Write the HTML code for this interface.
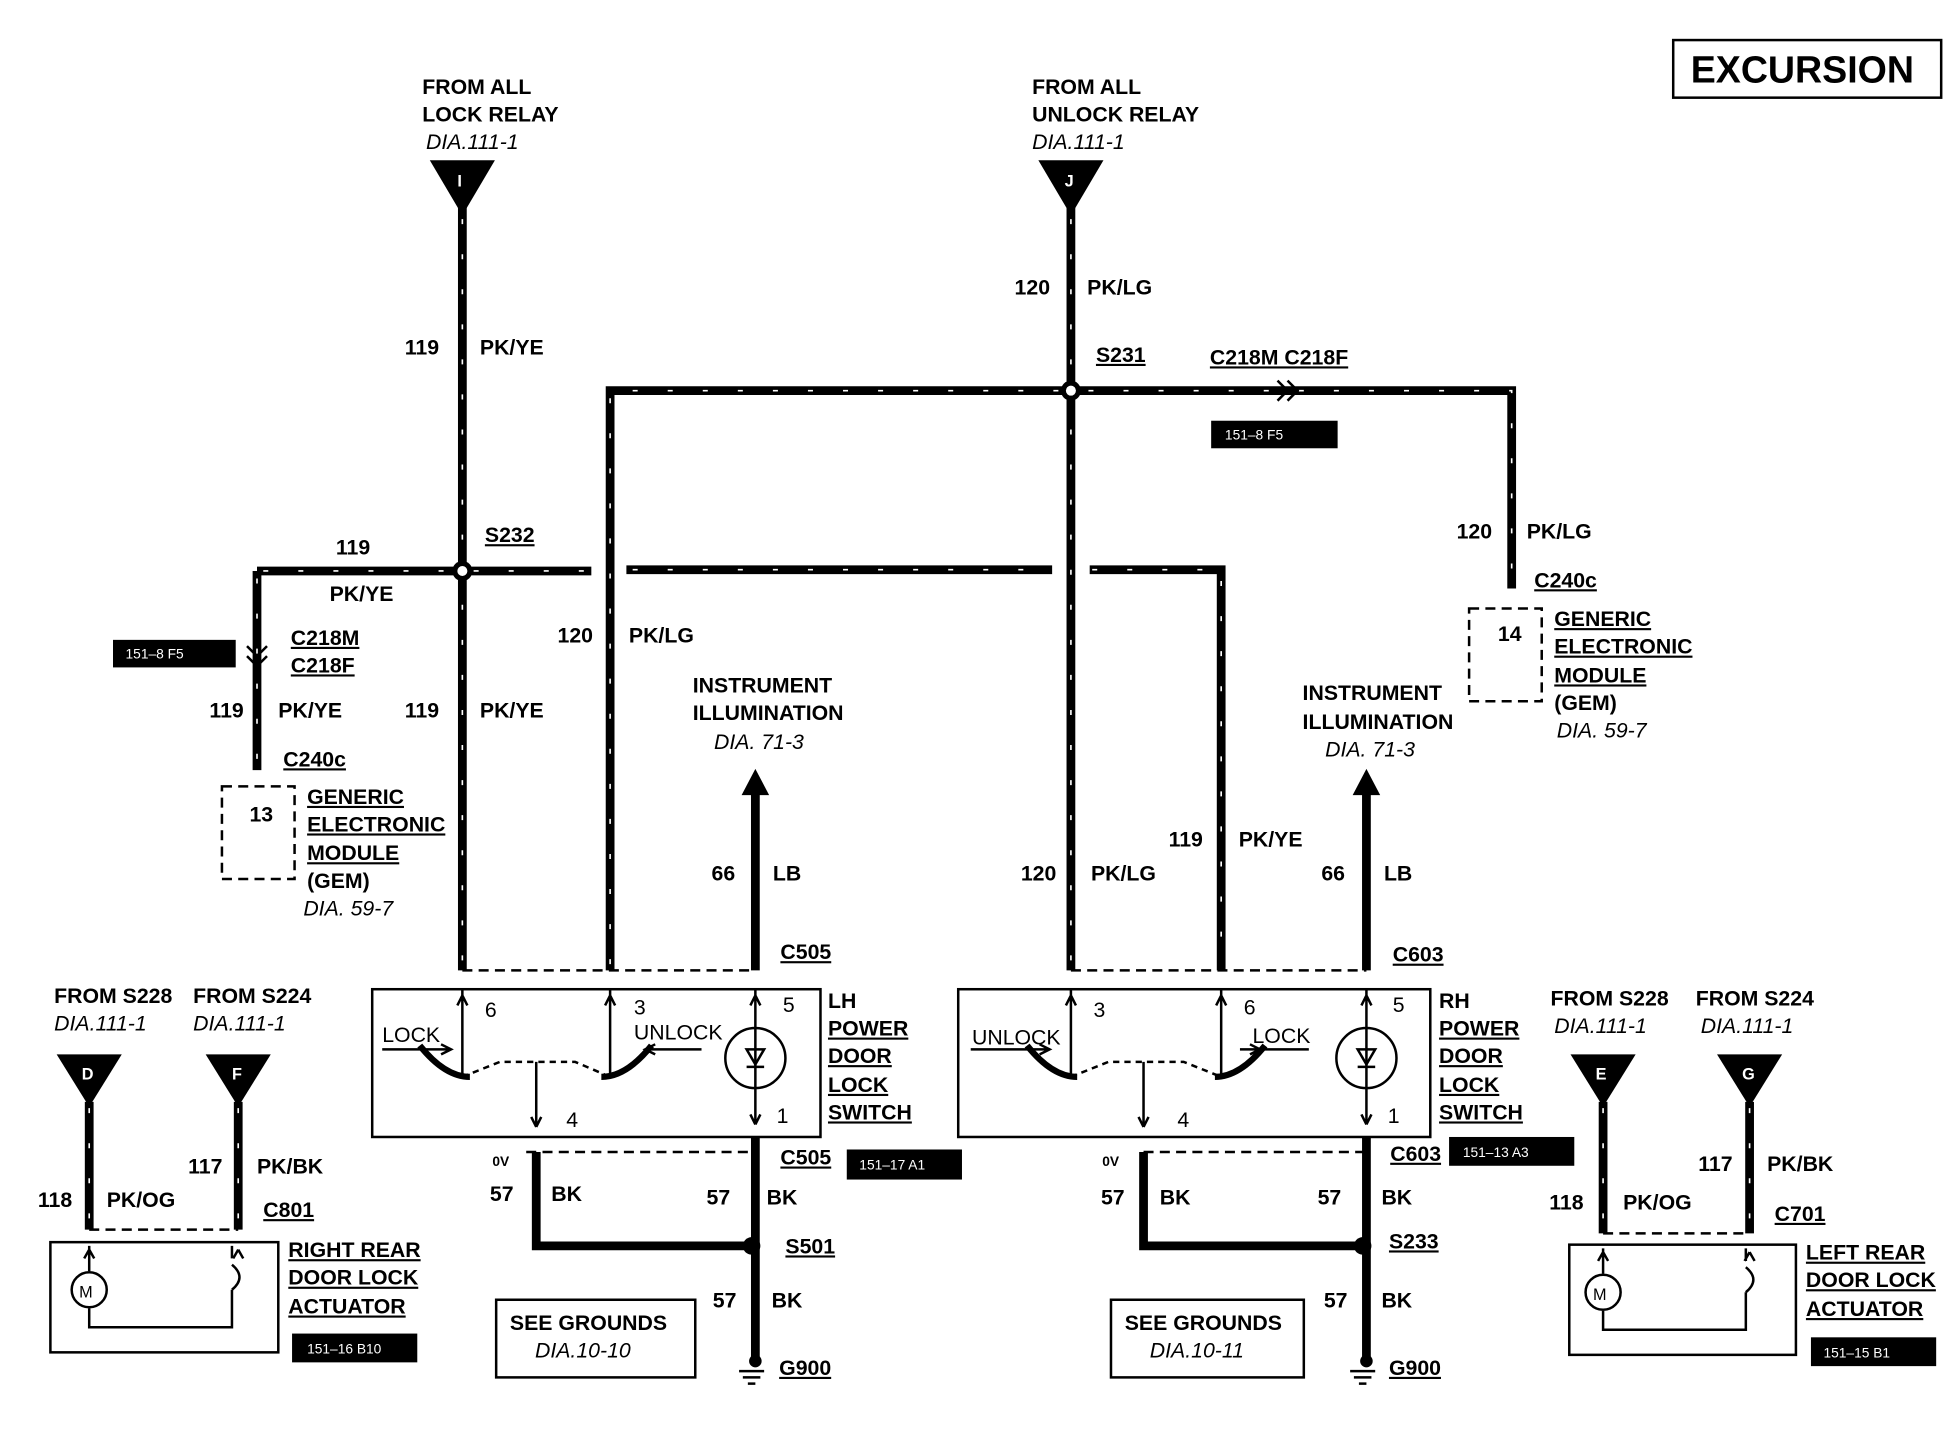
<!DOCTYPE html>
<html><head><meta charset="utf-8"><style>
html,body{margin:0;padding:0;background:#fff}
svg{display:block}
text{font-family:"Liberation Sans",Arial,sans-serif;font-weight:bold;font-size:17px;fill:#000}
.i{font-style:italic;font-weight:normal}
.w{stroke:#000;stroke-width:7;fill:none}
.h{stroke:#fff;stroke-width:1.3;fill:none;stroke-dasharray:4 24}
.t{stroke:#000;stroke-width:2;fill:none}
.d{stroke:#000;stroke-width:2;fill:none;stroke-dasharray:8 5}
.lb{fill:#fff;font-size:11px;font-weight:normal}
.u{text-decoration:underline}
</style></head><body>
<svg width="1954" height="1440" viewBox="0 0 1560 1150" xmlns="http://www.w3.org/2000/svg">
<rect x="1336" y="32" width="214" height="46" fill="none" stroke="#000" stroke-width="2"/>
<text x="1350" y="66" style="font-size:30px">EXCURSION</text>

<g class="w">
<path d="M369 165V775"/><path d="M205 456H472"/><path d="M205 456V615"/>
<path d="M487 775V312H1207V470"/><path d="M855 165V775"/>
<path d="M500 455H840M870 455H975V775"/>
<path d="M428 920V995H600"/><path d="M603 908V1090"/>
<path d="M913 920V995H1088"/><path d="M1091 908V1090"/>
<path d="M71 880V982"/><path d="M190 880V982"/>
<path d="M1280 880V985"/><path d="M1397 880V985"/>
</g>
<g class="h">
<path d="M369 175V770"/><path d="M210 456H468"/><path d="M205 462V610"/>
<path d="M487 770V312H1207V465"/><path d="M855 175V770"/>
<path d="M505 455H838M872 455H975V770"/>
<path d="M71 885V978"/><path d="M190 885V978"/><path d="M1280 885V980"/><path d="M1397 885V980"/>
</g>
<path d="M603 775V630" stroke="#000" stroke-width="7"/><polygon points="592,635 614,635 603,614"/>
<path d="M1091 775V630" stroke="#000" stroke-width="7"/><polygon points="1080,635 1102,635 1091,614"/>
<circle cx="369" cy="456" r="8" fill="#000"/><circle cx="369" cy="456" r="4" fill="#fff"/>
<circle cx="855" cy="312" r="8" fill="#000"/><circle cx="855" cy="312" r="4" fill="#fff"/>
<circle cx="600" cy="995" r="7" fill="#000"/><circle cx="1088" cy="995" r="7" fill="#000"/>
<path d="M1020 304l8 8-8 8M1028 304l8 8-8 8" class="t" stroke-width="3"/>
<path d="M197 516l8 8 8-8M197 524l8 8 8-8" class="t" stroke-width="3" fill="#fff"/>
<g>
<polygon points="343,128 395,128 369,172"/><text x="365" y="149" style="fill:#fff;font-size:13px">I</text>
<polygon points="829,128 881,128 855,172"/><text x="850" y="149" style="fill:#fff;font-size:13px">J</text>
<polygon points="45,842 97,842 71,884"/><text x="65" y="862" style="fill:#fff;font-size:13px">D</text>
<polygon points="164,842 216,842 190,884"/><text x="185" y="862" style="fill:#fff;font-size:13px">F</text>
<polygon points="1254,842 1306,842 1280,884"/><text x="1274" y="862" style="fill:#fff;font-size:13px">E</text>
<polygon points="1371,842 1423,842 1397,884"/><text x="1391" y="862" style="fill:#fff;font-size:13px">G</text>
</g>
<path class="d" d="M369 775H603M855 775H1091M420 920H603M913 920H1091M71 982H190M1280 985H1397"/>
<rect class="d" x="177" y="628" width="58" height="74"/><rect class="d" x="1173" y="486" width="58" height="74"/>
<rect x="297" y="790" width="358" height="118" class="t" stroke-width="3"/>
<rect x="765" y="790" width="377" height="118" class="t" stroke-width="3"/>
<g class="t">
<path d="M369 790V860M487 790V860M603 790V898M428 848V900M369 795l-4 8M369 795l4 8M487 795l-4 8M487 795l4 8M603 795l-4 8M603 795l4 8M428 900l-4-8M428 900l4-8M603 898l-4-8M603 898l4-8"/>
<path d="M855 790V860M975 790V860M1091 790V898M913 848V900M855 795l-4 8M855 795l4 8M975 795l-4 8M975 795l4 8M1091 795l-4 8M1091 795l4 8M913 900l-4-8M913 900l4-8M1091 898l-4-8M1091 898l4-8"/>
<circle cx="603" cy="845" r="24"/><circle cx="1091" cy="845" r="24"/>
<path d="M305 838H360M352 834l8 4-8 4M560 838H515M523 834l-8 4 8 4"/>
<path d="M775 838H838M830 834l8 4-8 4M1045 838H990M998 834l8 4-8 4"/>
<path d="M369 860l30-12 30 0 30 0 28 12" stroke-dasharray="5 4"/>
<path d="M855 860l30-12 30 0 30 0 30 12" stroke-dasharray="5 4"/>
</g>
<path d="M335 835q20 25 40 25M520 835q-20 25-40 25M820 835q20 25 40 25M1010 835q-20 25-40 25" stroke="#000" stroke-width="5" fill="none"/>
<path d="M596 838h14l-7 12z M596 852h14 M1084 838h14l-7 12z M1084 852h14" stroke="#000" stroke-width="2" fill="none"/>
<g class="t" stroke-width="3"><path d="M590 1095h20M593 1100h14M597 1105h6M1078 1095h20M1081 1100h14M1085 1105h6"/></g>
<circle cx="603" cy="1087" r="5" fill="#000"/><circle cx="1091" cy="1087" r="5" fill="#000"/>
<rect x="396" y="1038" width="159" height="62" class="t"/><rect x="887" y="1038" width="154" height="62" class="t"/>
<rect x="40" y="992" width="182" height="88" class="t" stroke-width="3"/>
<rect x="1253" y="994" width="181" height="88" class="t" stroke-width="3"/>
<g class="t">
<path d="M71 995V1015M71 1045V1060H185V1030M185 995V1005M71 998l-4 7M71 998l4 7M190 998l-4 7M190 998l4 7"/>
<circle cx="71" cy="1030" r="14"/><path d="M185 1010q12 10 0 20"/>
<path d="M1280 997V1017M1280 1047V1062H1394V1032M1394 997V1007M1280 1000l-4 7M1280 1000l4 7M1397 1000l-4 7M1397 1000l4 7"/>
<circle cx="1280" cy="1032" r="14"/><path d="M1394 1012q12 10 0 20"/>
</g>
<text x="63" y="1036" style="font-size:13px;font-weight:normal">M</text>
<text x="1272" y="1038" style="font-size:13px;font-weight:normal">M</text>
<rect x="90" y="511" width="98" height="22"/><text x="100" y="526" class="lb">151–8 F5</text>
<rect x="967" y="336" width="101" height="22"/><text x="978" y="351" class="lb">151–8 F5</text>
<rect x="676" y="918" width="92" height="24"/><text x="686" y="934" class="lb">151–17 A1</text>
<rect x="1157" y="908" width="100" height="23"/><text x="1168" y="924" class="lb">151–13 A3</text>
<rect x="233" y="1065" width="100" height="23"/><text x="245" y="1081" class="lb">151–16 B10</text>
<rect x="1446" y="1068" width="100" height="23"/><text x="1456" y="1084" class="lb">151–15 B1</text>

<text x="337" y="75">FROM ALL</text><text x="337" y="97">LOCK RELAY</text><text x="340" y="119" class="i">DIA.111-1</text>
<text x="824" y="75">FROM ALL</text><text x="824" y="97">UNLOCK RELAY</text><text x="824" y="119" class="i">DIA.111-1</text>
<text x="323" y="283">119</text><text x="383" y="283">PK/YE</text>
<text x="810" y="235">120</text><text x="868" y="235">PK/LG</text>
<text x="875" y="289" class="u">S231</text><text x="966" y="291" class="u">C218M C218F</text>
<text x="387" y="433" class="u">S232</text>
<text x="268" y="443">119</text><text x="263" y="480">PK/YE</text>
<text x="232" y="515" class="u">C218M</text><text x="232" y="537" class="u">C218F</text>
<text x="167" y="573">119</text><text x="222" y="573">PK/YE</text>
<text x="323" y="573">119</text><text x="383" y="573">PK/YE</text>
<text x="445" y="513">120</text><text x="502" y="513">PK/LG</text>
<text x="226" y="612" class="u">C240c</text>
<text x="199" y="656">13</text>
<text x="245" y="642" class="u">GENERIC</text><text x="245" y="664" class="u">ELECTRONIC</text><text x="245" y="687" class="u">MODULE</text><text x="245" y="709">(GEM)</text>
<text x="242" y="731" class="i">DIA. 59-7</text>
<text x="1163" y="430">120</text><text x="1219" y="430">PK/LG</text>
<text x="1225" y="469" class="u">C240c</text><text x="1196" y="512">14</text>
<text x="1241" y="500" class="u">GENERIC</text><text x="1241" y="522" class="u">ELECTRONIC</text><text x="1241" y="545" class="u">MODULE</text><text x="1241" y="567">(GEM)</text>
<text x="1243" y="589" class="i">DIA. 59-7</text>
<text x="553" y="553">INSTRUMENT</text><text x="553" y="575">ILLUMINATION</text><text x="570" y="598" class="i">DIA. 71-3</text>
<text x="1040" y="559">INSTRUMENT</text><text x="1040" y="582">ILLUMINATION</text><text x="1058" y="604" class="i">DIA. 71-3</text>
<text x="568" y="703">66</text><text x="617" y="703">LB</text>
<text x="1055" y="703">66</text><text x="1105" y="703">LB</text>
<text x="933" y="676">119</text><text x="989" y="676">PK/YE</text>
<text x="815" y="703">120</text><text x="871" y="703">PK/LG</text>
<text x="623" y="766" class="u">C505</text><text x="1112" y="768" class="u">C603</text>
<text x="387" y="812" style="font-weight:normal">6</text><text x="506" y="810" style="font-weight:normal">3</text><text x="625" y="808" style="font-weight:normal">5</text>
<text x="452" y="900" style="font-weight:normal">4</text><text x="620" y="897" style="font-weight:normal">1</text>
<text x="305" y="832" style="font-weight:normal">LOCK</text><text x="506" y="830" style="font-weight:normal">UNLOCK</text>
<text x="873" y="812" style="font-weight:normal">3</text><text x="993" y="810" style="font-weight:normal">6</text><text x="1112" y="808" style="font-weight:normal">5</text>
<text x="940" y="900" style="font-weight:normal">4</text><text x="1108" y="897" style="font-weight:normal">1</text>
<text x="776" y="834" style="font-weight:normal">UNLOCK</text><text x="1000" y="833" style="font-weight:normal">LOCK</text>
<text x="661" y="805">LH</text><text x="661" y="827" class="u">POWER</text><text x="661" y="849" class="u">DOOR</text><text x="661" y="872" class="u">LOCK</text><text x="661" y="894" class="u">SWITCH</text>
<text x="1149" y="805">RH</text><text x="1149" y="827" class="u">POWER</text><text x="1149" y="849" class="u">DOOR</text><text x="1149" y="872" class="u">LOCK</text><text x="1149" y="894" class="u">SWITCH</text>
<text x="393" y="931" style="font-size:11px">0V</text><text x="880" y="931" style="font-size:11px">0V</text>
<text x="623" y="930" class="u">C505</text><text x="1110" y="927" class="u">C603</text>
<text x="391" y="959">57</text><text x="440" y="959">BK</text><text x="564" y="962">57</text><text x="612" y="962">BK</text>
<text x="879" y="962">57</text><text x="926" y="962">BK</text><text x="1052" y="962">57</text><text x="1103" y="962">BK</text>
<text x="627" y="1001" class="u">S501</text><text x="1109" y="997" class="u">S233</text>
<text x="569" y="1044">57</text><text x="616" y="1044">BK</text><text x="1057" y="1044">57</text><text x="1103" y="1044">BK</text>
<text x="622" y="1098" class="u">G900</text><text x="1109" y="1098" class="u">G900</text>
<text x="407" y="1062">SEE GROUNDS</text><text x="427" y="1084" class="i">DIA.10-10</text>
<text x="898" y="1062">SEE GROUNDS</text><text x="918" y="1084" class="i">DIA.10-11</text>
<text x="43" y="801">FROM S228</text><text x="43" y="823" class="i">DIA.111-1</text>
<text x="154" y="801">FROM S224</text><text x="154" y="823" class="i">DIA.111-1</text>
<text x="1238" y="803">FROM S228</text><text x="1241" y="825" class="i">DIA.111-1</text>
<text x="1354" y="803">FROM S224</text><text x="1358" y="825" class="i">DIA.111-1</text>
<text x="150" y="937">117</text><text x="205" y="937">PK/BK</text>
<text x="30" y="964">118</text><text x="85" y="964">PK/OG</text><text x="210" y="972" class="u">C801</text>
<text x="1356" y="935">117</text><text x="1411" y="935">PK/BK</text>
<text x="1237" y="966">118</text><text x="1296" y="966">PK/OG</text><text x="1417" y="975" class="u">C701</text>
<text x="230" y="1004" class="u">RIGHT REAR</text><text x="230" y="1026" class="u">DOOR LOCK</text><text x="230" y="1049" class="u">ACTUATOR</text>
<text x="1442" y="1006" class="u">LEFT REAR</text><text x="1442" y="1028" class="u">DOOR LOCK</text><text x="1442" y="1051" class="u">ACTUATOR</text>
</svg>
</body></html>
